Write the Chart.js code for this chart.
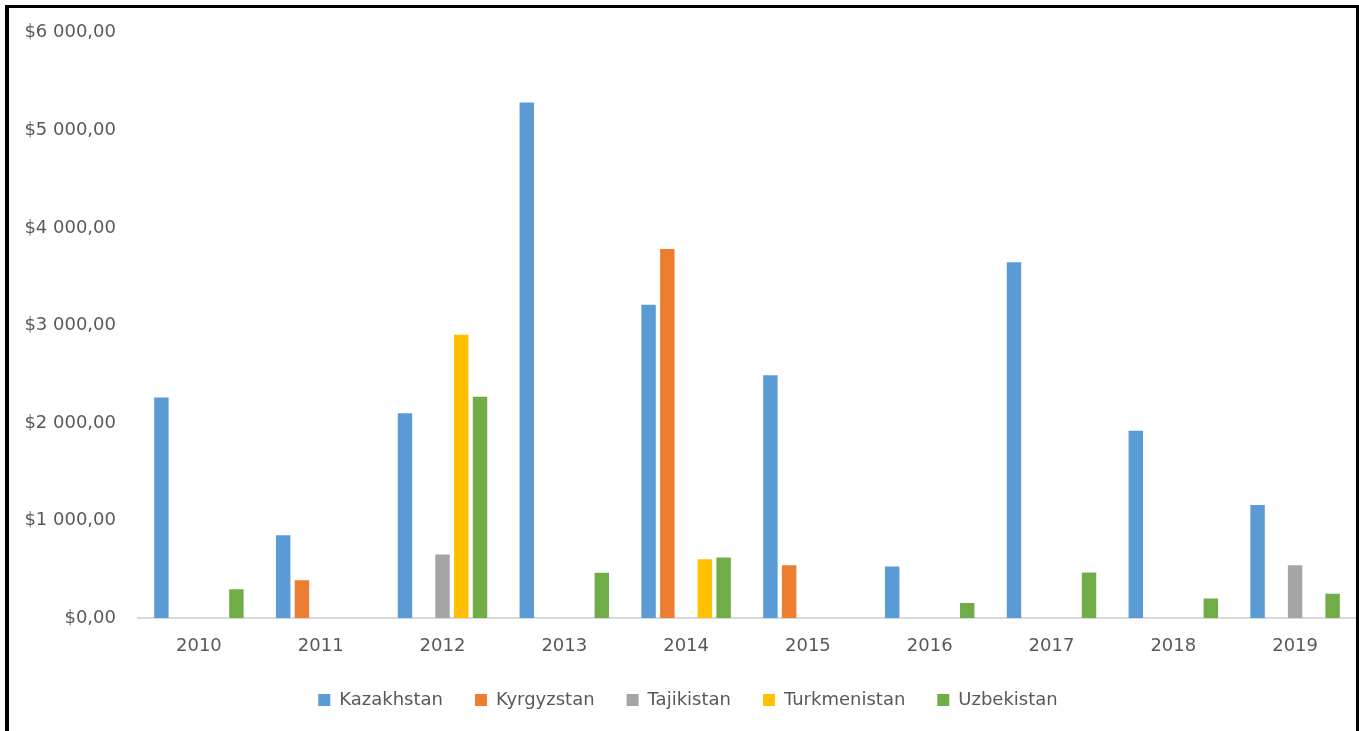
<!DOCTYPE html>
<html>
<head>
<meta charset="utf-8">
<script src="https://cdn.jsdelivr.net/npm/chart.js@4"></script>
<style>
    html, body { margin: 0; padding: 0; background: #ffffff; overflow: hidden; }
    #wrap { position: relative; width: 1359px; height: 731px; }
    #chartCanvas { position: absolute; left: 0; top: 0; }
    #frame {
        position: absolute; left: 5px; top: 5px; width: 1347px; height: 760px;
        border: 3px solid #000000; border-left-width: 4px; pointer-events: none;
    }
</style>
</head>
<body>
<div id="wrap">
    <canvas id="chartCanvas" width="1359" height="731"></canvas>
    <div id="frame"></div>
</div>
<script>
    // values (USD)
    const years = ['2010', '2011', '2012', '2013', '2014', '2015', '2016', '2017', '2018', '2019']
    const kazakhstan   = [2260, 849, 2100, 5285, 3212, 2488, 527, 3647, 1919, 1159]
    const kyrgyzstan   = [0, 386, 0, 0, 3783, 540, 0, 0, 0, 0]
    const tajikistan   = [0, 0, 651, 0, 0, 0, 0, 0, 0, 542]
    const turkmenistan = [0, 0, 2904, 0, 603, 0, 0, 0, 0, 0]
    const uzbekistan   = [294, 0, 2268, 464, 620, 0, 153, 467, 201, 249]
    const yTicks = [0, 1000, 2000, 3000, 4000, 5000, 6000]

    const textColor = `#595959`
    const fontFamily = `'DejaVu Sans', sans-serif`

    const formatMoney = (v) => {
        const whole = Math.round(v).toString().replace(/\B(?=(\d{3})+(?!\d))/g, ' ')
        return `$${whole},00`
    }

    const series = [
        { label: 'Kazakhstan', data: kazakhstan, color: '#5B9BD5' },
        { label: 'Kyrgyzstan', data: kyrgyzstan, color: '#ED7D31' },
        { label: 'Tajikistan', data: tajikistan, color: '#A5A5A5' },
        { label: 'Turkmenistan', data: turkmenistan, color: '#FFC000' },
        { label: 'Uzbekistan', data: uzbekistan, color: '#70AD47' },
    ]

    new Chart(document.getElementById('chartCanvas'), {
        type: 'bar',
        data: {
            labels: years,
            datasets: series.map(s => ({
                label: s.label,
                data: s.data,
                backgroundColor: s.color,
                borderWidth: 0,
                categoryPercentage: 0.77,
                barPercentage: 0.77,
            }))
        },
        options: {
            responsive: false,
            animation: false,
            devicePixelRatio: 1,
            layout: { padding: { top: 30, right: 3, bottom: 12, left: 20 } },
            plugins: {
                tooltip: { enabled: false },
                legend: {
                    position: 'bottom',
                    labels: {
                        color: textColor,
                        font: { family: fontFamily, size: 18 },
                        boxWidth: 12,
                        boxHeight: 12,
                        padding: 32,
                    }
                }
            },
            scales: {
                x: {
                    afterFit: (scale) => { scale.height = 41 },
                    grid: { display: false, drawTicks: false },
                    border: { display: true, color: '#d9d9d9', width: 2 },
                    ticks: { color: textColor, font: { family: fontFamily, size: 18 }, padding: 18 },
                },
                y: {
                    min: 0,
                    max: 6000,
                    afterBuildTicks: (scale) => { scale.ticks = yTicks.map(v => ({ value: v })) },
                    afterFit: (scale) => { scale.width = 118 },
                    grid: { display: false, drawTicks: false },
                    border: { display: false },
                    ticks: {
                        color: textColor,
                        font: { family: fontFamily, size: 18 },
                        padding: 22,
                        callback: (v) => formatMoney(v),
                    },
                }
            }
        }
    })
</script>
</body>
</html>
